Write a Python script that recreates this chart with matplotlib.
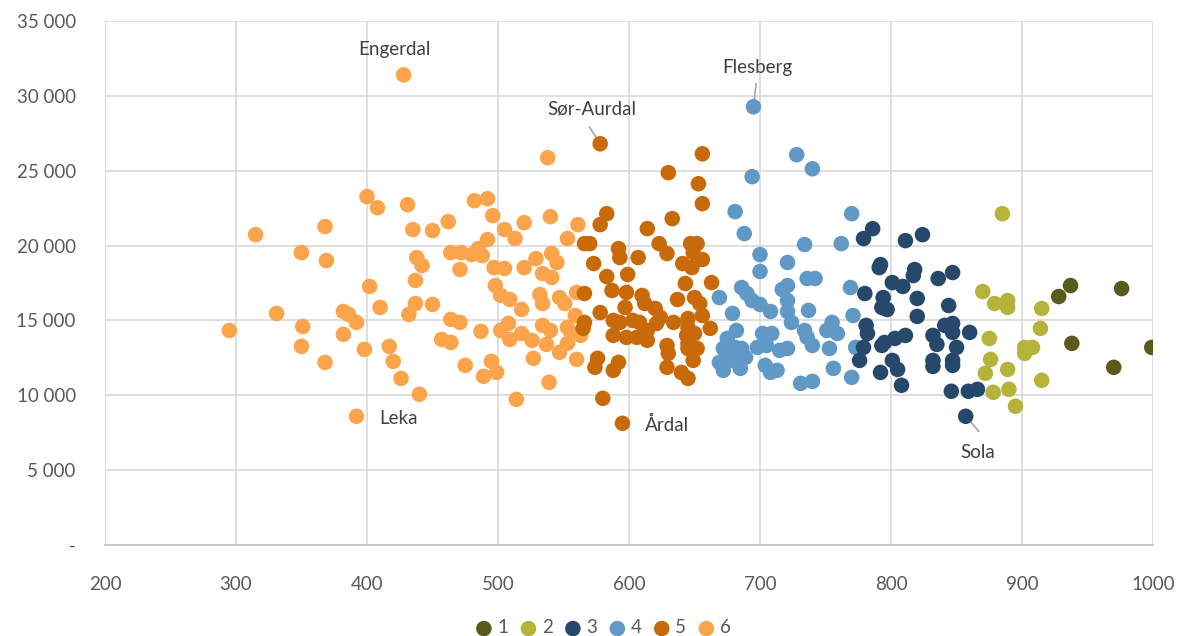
import matplotlib.pyplot as plt
from matplotlib.ticker import FuncFormatter

plt.rcParams['font.family'] = ['Lato', 'DejaVu Sans']

# group 1
x1 = [928, 937, 976, 938, 970, 999]
y1 = [16600, 17330, 17130, 13470, 11870, 13200]

# group 2
x2 = [885, 870, 879, 889, 889, 915, 914, 875, 902, 908, 902, 876, 872, 889, 915, 878, 890, 895]
y2 = [22130, 16930, 16130, 16330, 15870, 15800, 14470, 13800, 13200, 13200, 12800, 12400,
      11470, 11730, 11000, 10200, 10400, 9270]

# group 3
x3 = [786, 779, 811, 824, 792, 791, 818, 817, 801, 809, 836, 847, 780, 794, 820, 793, 797,
      844, 820, 781, 782, 841, 847, 847, 860, 832, 835, 811, 803, 795, 793, 779, 850, 776,
      801, 805, 792, 832, 832, 847, 847, 808, 846, 859, 866, 857]
y3 = [21130, 20470, 20330, 20730, 18730, 18530, 18400, 18000, 17530, 17270, 17800, 18200,
      16800, 16530, 16470, 15870, 15730, 16000, 15270, 14670, 14130, 14670, 14800, 14200,
      14200, 14000, 13400, 14000, 13800, 13530, 13330, 13200, 13200, 12330, 12330, 11730,
      11530, 12330, 11930, 12330, 12000, 10670, 10270, 10270, 10400, 8600]

# group 4
x4 = [695, 728, 740, 694, 681, 688, 770, 700, 700, 721, 734, 762, 769, 669, 686, 690, 694,
      700, 708, 717, 721, 721, 721, 724, 736, 742, 737, 679, 682, 675, 672, 669, 672, 681,
      686, 689, 685, 679, 698, 702, 709, 705, 715, 721, 704, 708, 713, 734, 736, 740, 751,
      755, 759, 753, 756, 731, 740, 771, 773, 770, 676]
y4 = [29270, 26070, 25130, 24600, 22270, 20800, 22130, 19400, 18270, 18870, 20070, 20130,
      17200, 16530, 17200, 16800, 16330, 16070, 15600, 17070, 17330, 16330, 15600, 14870,
      17800, 17800, 15670, 15470, 14330, 13800, 13130, 12200, 11670, 13200, 13130, 12530,
      11800, 12330, 13200, 14130, 14130, 13330, 13000, 13130, 12000, 11530, 11670, 14330,
      13870, 13330, 14330, 14870, 14130, 13130, 11800, 10800, 10930, 15330, 13200, 11200,
      12670]

# group 5
x5 = [578, 656, 630, 653, 656, 583, 578, 633, 614, 566, 570, 592, 593, 623, 629, 647, 649,
      652, 656, 641, 648, 607, 573, 583, 599, 587, 598, 643, 663, 566, 610, 612, 597, 637,
      650, 654, 578, 588, 593, 603, 608, 620, 624, 621, 614, 588, 598, 606, 614, 634, 645,
      656, 662, 644, 650, 565, 566, 629, 630, 645, 652, 649, 576, 574, 592, 588, 629, 640,
      645, 580, 595, 645, 645]
y5 = [26800, 26130, 24870, 24130, 22800, 22130, 21400, 21800, 21130, 20130, 20130, 19800,
      19200, 20130, 19470, 20130, 19530, 20130, 19070, 18800, 18530, 19200, 18800, 17930,
      18070, 17000, 16870, 17470, 17530, 16800, 16670, 16130, 15870, 16400, 16530, 16130,
      15530, 15000, 14870, 15000, 14870, 15800, 15200, 14800, 14330, 14000, 13870, 13870,
      13670, 14870, 15130, 15330, 14470, 14000, 14130, 14470, 14870, 13330, 12800, 13130,
      13130, 12330, 12470, 11870, 12200, 11670, 11870, 11530, 11130, 9800, 8130, 14530,
      13470]

# group 6
x6 = [428, 400, 408, 368, 315, 350, 369, 402, 410, 331, 382, 386, 392, 295, 351, 382, 350,
      398, 417, 368, 420, 426, 392, 538, 431, 482, 492, 496, 540, 520, 435, 450, 462, 505,
      513, 561, 553, 492, 464, 472, 480, 485, 488, 438, 442, 471, 497, 505, 520, 529, 541,
      545, 534, 541, 437, 437, 450, 498, 502, 509, 518, 532, 534, 547, 551, 560, 432, 464,
      471, 487, 508, 502, 509, 518, 526, 537, 534, 540, 547, 553, 556, 560, 457, 464, 440,
      475, 489, 495, 499, 527, 539, 514, 559, 553, 563]
y6 = [31400, 23270, 22530, 21270, 20730, 19530, 19000, 17270, 15870, 15470, 15600, 15400,
      14870, 14330, 14600, 14070, 13270, 13070, 13270, 12200, 12270, 11130, 8600, 25870,
      22730, 23000, 23130, 22000, 21930, 21530, 21070, 21000, 21600, 21070, 20470, 21400,
      20470, 20400, 19530, 19530, 19400, 19800, 19330, 19200, 18670, 18400, 18530, 18470,
      18530, 19130, 19470, 18870, 18130, 17870, 17670, 16130, 16070, 17330, 16670, 16400,
      15730, 16730, 16130, 16530, 16130, 16870, 15400, 15070, 14870, 14270, 14800, 14330,
      13730, 14130, 13670, 13400, 14670, 14330, 12870, 13470, 14130, 12400, 13730, 13530,
      10070, 12000, 11270, 12270, 11530, 12470, 10870, 9730, 15330, 14530, 14000]

groups = ['1', '2', '3', '4', '5', '6']
colors = ['#5b5a1e', '#b6b33b', '#26486a', '#6098c6', '#c96a0a', '#fba44b']
xs = [x1, x2, x3, x4, x5, x6]
ys = [y1, y2, y3, y4, y5, y6]

# named points: (name, x, y, text x, text y)
labels = [
    ('Engerdal', 428, 31400, 421, 33100),
    ('Sør-Aurdal', 578, 26800, 572, 29100),
    ('Flesberg', 695, 29270, 698, 31900),
    ('Leka', 392, 8600, 409, 8470),
    ('Årdal', 595, 8130, 612, 8030),
    ('Sola', 857, 8600, 866, 6200),
]
leaders = {'Sør-Aurdal': (570, 27900), 'Flesberg': (697, 30800), 'Sola': (867, 7600)}

fig = plt.figure(figsize=(11.79, 6.36), dpi=100)
ax = fig.add_axes([0.089, 0.143, 0.889, 0.824])

for i in range(5, -1, -1):
    ax.scatter(xs[i], ys[i], s=125, color=colors[i], edgecolors='none', label=groups[i],
               zorder=3 + (5 - i))

for name, px, py, tx, ty in labels:
    if name in leaders:
        lx, ly = leaders[name]
        ax.plot([lx, px], [ly, py], color='#a6a6a6', lw=1.2, zorder=2)
    ha = 'left' if name in ('Leka', 'Årdal') else 'center'
    ax.text(tx, ty, name, fontsize=13.5, color='#404040', ha=ha, va='center')

ax.set_xlim(200, 1000)
ax.set_ylim(0, 35000)
ax.set_xticks(range(200, 1001, 100))
ax.set_yticks(range(0, 35001, 5000))
ax.yaxis.set_major_formatter(FuncFormatter(
    lambda v, p: '-' if v == 0 else f'{int(v):,}'.replace(',', ' ')))
ax.grid(True, color='#d9d9d9', lw=1.2)
ax.set_axisbelow(True)
for side in ['top', 'right', 'left']:
    ax.spines[side].set_visible(False)
ax.spines['bottom'].set_color('#bfbfbf')
ax.spines['bottom'].set_linewidth(1.2)
ax.tick_params(length=0, labelsize=13.5, labelcolor='#595959')
ax.tick_params(axis='x', pad=22)
ax.tick_params(axis='y', pad=21)

handles, labs = ax.get_legend_handles_labels()
order = sorted(range(len(labs)), key=lambda k: labs[k])
fig.legend([handles[k] for k in order], [labs[k] for k in order], loc='center',
           bbox_to_anchor=(0.512, 0.0126), ncol=6, frameon=False, fontsize=13.5,
           handlelength=0.78, handletextpad=0.33, columnspacing=0.68, markerscale=1.0,
           labelcolor='#595959', borderpad=0)

plt.savefig('out.png', dpi=100)
